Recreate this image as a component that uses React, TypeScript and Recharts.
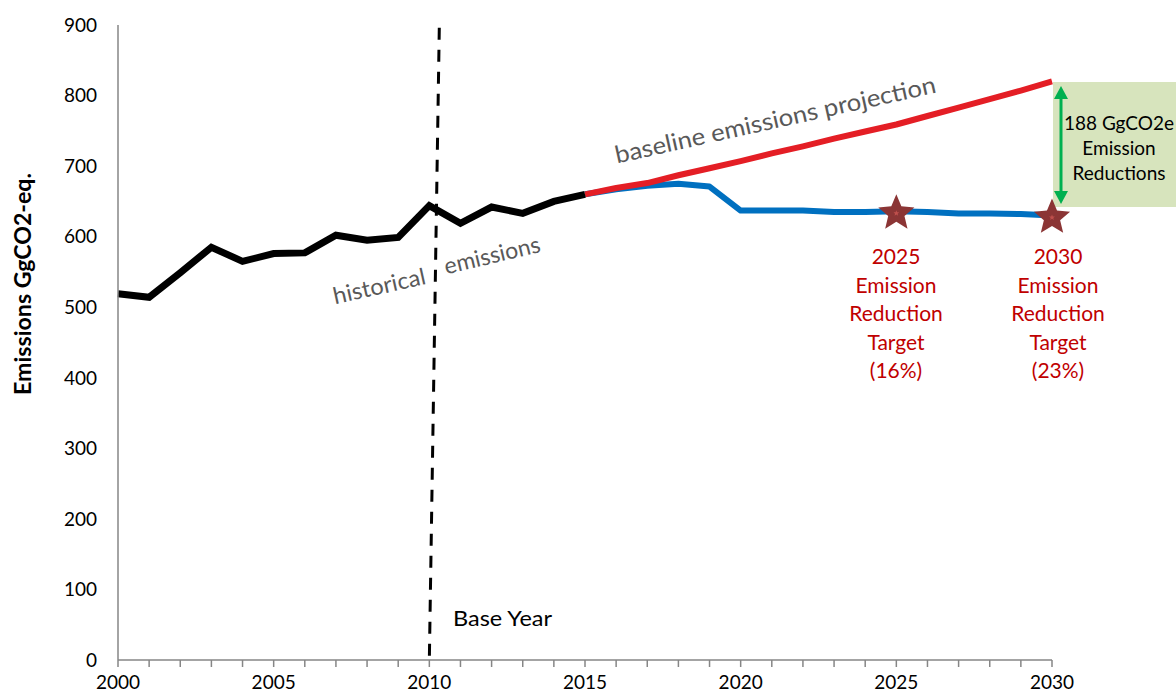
import React from "react";
import {
  ComposedChart,
  Line,
  Scatter,
  XAxis,
  YAxis,
  ReferenceLine,
} from "recharts";

// years on the x axis
const years = [
  2000, 2001, 2002, 2003, 2004, 2005, 2006, 2007, 2008, 2009, 2010, 2011, 2012,
  2013, 2014, 2015, 2016, 2017, 2018, 2019, 2020, 2021, 2022, 2023, 2024, 2025,
  2026, 2027, 2028, 2029, 2030,
];
const labelledYears = [2000, 2005, 2010, 2015, 2020, 2025, 2030];
const yTicks = [0, 100, 200, 300, 400, 500, 600, 700, 800, 900];

// 2000 - 2015
const historical = [
  519, 514, 549, 585, 565, 576, 577, 602, 595, 599, 644, 619, 642, 633, 650, 660,
];
// 2015 - 2030
const baseline = [
  660, 669, 676, 687, 697, 707, 718, 728, 739, 749, 759, 771, 783, 795, 807, 820,
];
const target = [
  660, 667, 672, 675, 671, 637, 637, 637, 635, 635, 636, 635, 633, 633, 632, 630,
];
const targetYears = [2025, 2030];

const FIRST_PROJ = 2015;

const data = years.map((year, i) => ({
  year,
  historical: i < historical.length ? historical[i] : null,
  baseline: year >= FIRST_PROJ ? baseline[year - FIRST_PROJ] : null,
  target: year >= FIRST_PROJ ? target[year - FIRST_PROJ] : null,
}));

const stars = targetYears.map((year) => ({
  year,
  value: target[year - FIRST_PROJ],
}));

const FONT = "Lato, 'Open Sans', sans-serif";

function starPoints(cx: number, cy: number, r: number, ratio: number) {
  const pts: string[] = [];
  for (let k = 0; k < 10; k++) {
    const rad = k % 2 === 0 ? r : r * ratio;
    const a = -Math.PI / 2 + (k * Math.PI) / 5;
    pts.push(`${cx + rad * Math.cos(a)},${cy + rad * Math.sin(a)}`);
  }
  return pts.join(" ");
}

const StarShape = (props: any) => {
  const { cx, cy } = props;
  if (cx == null || cy == null) return null;
  return (
    <g>
      <polygon points={starPoints(cx, cy + 2, 19, 0.45)} fill="#8B3535" />
      <polygon points={starPoints(cx, cy + 2, 3, 0.45)} fill="#C0504D" />
    </g>
  );
};

const XTick = (props: any) => {
  const { x, y, payload } = props;
  if (!labelledYears.includes(payload.value)) return null;
  return (
    <text x={x} y={y} dy="0.71em" textAnchor="middle" fill="#000" fontSize={19} fontFamily={FONT}>
      {payload.value}
    </text>
  );
};

const redText = ["Emission", "Reduction", "Target"];

export default function App() {
  return (
    <div style={{ position: "relative", width: 1176, height: 693 }}>
      <style>{"body{margin:0}"}</style>
      <svg
        width={1176}
        height={693}
        style={{ position: "absolute", left: 0, top: 0 }}
        fontFamily={FONT}
      >
        {/* reduction box */}
        <rect x={1053} y={82} width={123} height={125} fill="#D7E4BD" />
        <line x1={1061} y1={98} x2={1061} y2={192} stroke="#00B050" strokeWidth={3} />
        <polygon points="1061,86 1054,99 1068,99" fill="#00B050" />
        <polygon points="1061,204 1054,191 1068,191" fill="#00B050" />
        <text x={1119} y={130} textAnchor="middle" fontSize={19} fill="#000">188 GgCO2e</text>
        <text x={1119} y={155} textAnchor="middle" fontSize={19} fill="#000">Emission</text>
        <text x={1119} y={180} textAnchor="middle" fontSize={19} fill="#000">Reductions</text>

        {/* target labels */}
        {[
          { x: 896, year: "2025", pct: "(16%)" },
          { x: 1058, year: "2030", pct: "(23%)" },
        ].map((t) => (
          <g key={t.year} fill="#C00000" fontSize={21} textAnchor="middle">
            <text x={t.x} y={264}>{t.year}</text>
            {redText.map((s, i) => (
              <text key={s} x={t.x} y={292.5 + i * 28.5}>{s}</text>
            ))}
            <text x={t.x} y={378}>{t.pct}</text>
          </g>
        ))}

        {/* rotated line labels */}
        <text
          x={777}
          y={128}
          textAnchor="middle"
          fontSize={24}
          fill="#595959"
          textLength={328}
          lengthAdjust="spacingAndGlyphs"
          transform="rotate(-12.5 777 128)"
        >
          baseline emissions projection
        </text>
        <text
          x={381}
          y={294}
          textAnchor="middle"
          fontSize={23}
          fill="#595959"
          textLength={94}
          lengthAdjust="spacingAndGlyphs"
          transform="rotate(-12.5 381 294)"
        >
          historical
        </text>
        <text
          x={494}
          y={263}
          textAnchor="middle"
          fontSize={23}
          fill="#595959"
          textLength={98}
          lengthAdjust="spacingAndGlyphs"
          transform="rotate(-13.5 494 263)"
        >
          emissions
        </text>

        <text x={453} y={626} fontSize={22} fill="#000" textLength={99} lengthAdjust="spacingAndGlyphs">
          Base Year
        </text>

        <text
          x={31}
          y={284}
          textAnchor="middle"
          fontSize={22}
          fontWeight="bold"
          fill="#000"
          textLength={222}
          lengthAdjust="spacingAndGlyphs"
          transform="rotate(-90 31 284)"
        >
          Emissions GgCO2-eq.
        </text>
      </svg>

      <div style={{ position: "relative" }}>
        <ComposedChart
          width={1176}
          height={693}
          data={data}
          margin={{ top: 25, right: 124, bottom: 0, left: 0 }}
        >
          <XAxis
            dataKey="year"
            type="number"
            domain={[2000, 2030]}
            ticks={years}
            interval={0}
            height={33}
            tickSize={7}
            tickMargin={9}
            stroke="#868686"
            axisLine={{ stroke: "#868686", strokeWidth: 1.5 }}
            tickLine={{ stroke: "#868686", strokeWidth: 1.5 }}
            tick={<XTick />}
          />
          <YAxis
            type="number"
            domain={[0, 900]}
            ticks={yTicks}
            width={118}
            tickSize={0}
            tickMargin={21}
            tickLine={false}
            axisLine={{ stroke: "#868686", strokeWidth: 1.5 }}
            tick={{ fill: "#000", fontSize: 19, fontFamily: FONT }}
          />
          <ReferenceLine
            segment={[
              { x: 2010.32, y: 896 },
              { x: 2010, y: 0 },
            ]}
            stroke="#000"
            strokeWidth={3}
            strokeDasharray="12 10"
            ifOverflow="visible"
          />
          <Line
            dataKey="target"
            stroke="#0070C0"
            strokeWidth={6}
            dot={false}
            activeDot={false}
            isAnimationActive={false}
            strokeLinejoin="round"
          />
          <Line
            dataKey="baseline"
            stroke="#E41E25"
            strokeWidth={6}
            dot={false}
            activeDot={false}
            isAnimationActive={false}
            strokeLinejoin="round"
          />
          <Line
            dataKey="historical"
            stroke="#000"
            strokeWidth={7}
            dot={false}
            activeDot={false}
            isAnimationActive={false}
            strokeLinejoin="miter"
          />
          <Scatter
            data={stars}
            dataKey="value"
            shape={<StarShape />}
            isAnimationActive={false}
          />
        </ComposedChart>
      </div>
    </div>
  );
}
